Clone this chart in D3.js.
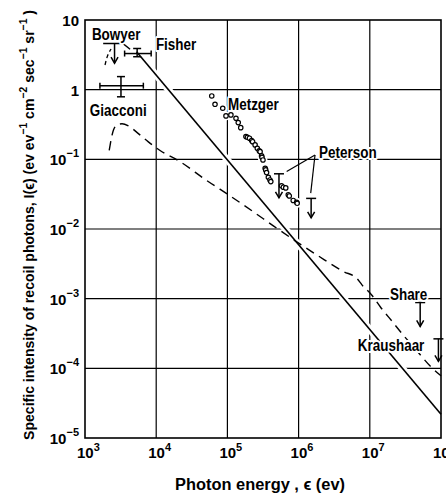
<!DOCTYPE html>
<html><head><meta charset="utf-8">
<script src="https://cdn.jsdelivr.net/npm/d3@7"></script>
<style>
html,body{margin:0;padding:0;background:#fff;}
svg{display:block;}
text{font-family:"Liberation Sans",Arial,sans-serif;font-weight:bold;fill:#000;}
</style></head><body>
<script>
// ---------- data ----------
const xTicks = [1e3, 1e4, 1e5, 1e6, 1e7, 1e8];
const xTickExp = ["3", "4", "5", "6", "7", "8"];
const yTicks = [1e1, 1e0, 1e-1, 1e-2, 1e-3, 1e-4, 1e-5];
const yTickBase = ["10", "1", "10", "10", "10", "10", "10"];
const yTickExp = ["", "", "-1", "-2", "-3", "-4", "-5"];

// power-law (solid) line
const solidLine = [[5.3e3, 3.5], [1e8, 2.2e-5]];

// dashed curve
const dashedCurve = [
  [2188, 0.135], [2512, 0.263], [2884, 0.316], [3311, 0.324], [4074, 0.302],
  [5623, 0.234], [7762, 0.178], [1.12e4, 0.135], [2.14e4, 0.0933], [4.9e4, 0.0513],
  [1.15e5, 0.0288], [2.29e5, 0.0178], [4.47e5, 0.011], [9.3e5, 0.0066], [1.9e6, 0.0041],
  [4.27e6, 0.00245], [6.6e6, 0.00195], [7.76e6, 0.00158], [1.07e7, 0.00112], [1.41e7, 7.6e-4],
  [2.14e7, 4.5e-4], [2.95e7, 3.0e-4], [4.27e7, 1.95e-4], [7.1e7, 1.07e-4], [1e8, 7.8e-5]
];

// Metzger points
const metzger = [
  [6.03e4, 0.813], [6.7e4, 0.617], [8.6e4, 0.541], [9.55e4, 0.42], [1.12e5, 0.434],
  [1.32e5, 0.389], [1.42e5, 0.337], [1.54e5, 0.285], [1.82e5, 0.212], [1.91e5, 0.207],
  [2.04e5, 0.201], [2.19e5, 0.186], [2.26e5, 0.179], [2.45e5, 0.161], [2.63e5, 0.144],
  [2.8e5, 0.133], [2.88e5, 0.129], [3.02e5, 0.112], [3.06e5, 0.107], [3.16e5, 0.098],
  [3.39e5, 0.0745], [3.45e5, 0.0705], [3.55e5, 0.0646], [3.76e5, 0.0553], [3.96e5, 0.0506],
  [4.07e5, 0.0479], [5.75e5, 0.0417], [6.1e5, 0.0398], [6.6e5, 0.0389], [7.16e5, 0.0309],
  [7.4e5, 0.0298], [8.4e5, 0.0257], [9.4e5, 0.0242], [9.55e5, 0.0234]
];

// upper limits: [energy, bar value, arrow tip value]
const upperLimits = [
  [2.6e3, 4.6, 2.4],      // Bowyer
  [5.3e5, 0.062, 0.028],  // Peterson 1
  [1.5e6, 0.0275, 0.0145],// Peterson 2
  [5.1e7, 8.8e-4, 4.0e-4],// Share
  [9.2e7, 2.65e-4, 1.26e-4] // Kraushaar
];
const bowyerBar = [[1.8e3, 4.6], [3.4e3, 4.6], [4.3e3, 3.8]];
const bowyerArc = [[1.91e3, 2.26], [2.07e3, 3.04], [2.32e3, 3.84]];

// error bars: [x, y, xLow, xHigh, yLow, yHigh]
const errorBars = [
  [5.4e3, 3.3, 3.6e3, 8.5e3, 2.97, 3.9],   // Fisher
  [3.2e3, 1.14, 1.62e3, 6.6e3, 0.79, 1.54] // Giacconi
];

// annotation labels anchored in data space
const labelText = ["Bowyer", "Fisher", "Giacconi", "Metzger", "Peterson", "Share", "Kraushaar"];
const labelAt = [[1.25e3, 5.16], [9.9e3, 3.72], [1.17e3, 0.42], [1.02e5, 0.51], [1.94e6, 0.105], [1.92e7, 9.6e-4], [6.8e6, 1.78e-4]];
const petersonLeaders = [[[1.7e6, 0.1156], [6.8e5, 0.0667]], [[1.7e6, 0.1156], [1.48e6, 0.0327]]];

// ---------- layout ----------
const W = 446, H = 498;
const M = {left: 85, right: 5, top: 20, bottom: 60};
const NARROW = 0.84;

const svg = d3.select("body").append("svg").attr("width", W).attr("height", H);
const x = d3.scaleLog().domain([1e3, 1e8]).range([M.left, W - M.right]);
const y = d3.scaleLog().domain([1e-5, 1e1]).range([H - M.bottom, M.top]);

function condense(sel, target) {
  sel.each(function() {
    const L = this.getComputedTextLength();
    this.setAttribute("textLength", target || L * NARROW);
    this.setAttribute("lengthAdjust", "spacingAndGlyphs");
  });
}

// grid
const grid = svg.append("g").attr("stroke", "#000").attr("stroke-width", 1.2);
grid.selectAll("line.v").data(xTicks.slice(1, -1)).join("line")
  .attr("x1", d => x(d)).attr("x2", d => x(d)).attr("y1", y(1e1)).attr("y2", y(1e-5));
grid.selectAll("line.h").data(yTicks.slice(1, -1)).join("line")
  .attr("y1", d => y(d)).attr("y2", d => y(d)).attr("x1", x(1e3)).attr("x2", x(1e8));

// halos to break gridlines where curves pass
const line = d3.line().x(d => x(d[0])).y(d => y(d[1]));
svg.append("path").attr("d", line(solidLine)).attr("fill", "none").attr("stroke", "#fff").attr("stroke-width", 7);
svg.append("g").selectAll("circle").data(metzger).join("circle")
  .attr("cx", d => x(d[0])).attr("cy", d => y(d[1])).attr("r", 4.5).attr("fill", "#fff");

// frame
svg.append("rect").attr("x", x(1e3)).attr("y", y(1e1))
  .attr("width", x(1e8) - x(1e3)).attr("height", y(1e-5) - y(1e1))
  .attr("fill", "none").attr("stroke", "#000").attr("stroke-width", 1.6);

// solid line
svg.append("path").attr("d", line(solidLine)).attr("fill", "none").attr("stroke", "#000").attr("stroke-width", 1.6);

// dashed curve
const curve = d3.line().x(d => x(d[0])).y(d => y(d[1])).curve(d3.curveMonotoneX);
svg.append("path").attr("d", curve(dashedCurve)).attr("fill", "none")
  .attr("stroke", "#000").attr("stroke-width", 1.4).attr("stroke-dasharray", "9,6");

// Metzger points
svg.append("g").selectAll("circle").data(metzger).join("circle")
  .attr("cx", d => x(d[0])).attr("cy", d => y(d[1])).attr("r", 2.2)
  .attr("fill", "#fff").attr("stroke", "#000").attr("stroke-width", 1.2);

// upper limits
const ul = svg.append("g").attr("stroke", "#000").attr("stroke-width", 1.5).attr("fill", "none");
upperLimits.forEach((d, i) => {
  const cx = x(d[0]), y0 = y(d[1]), y1 = y(d[2]);
  if (i > 0) ul.append("line").attr("x1", cx - 5).attr("x2", cx + 5).attr("y1", y0).attr("y2", y0);
  ul.append("line").attr("x1", cx).attr("x2", cx).attr("y1", y0).attr("y2", y1);
  ul.append("path").attr("d", `M${cx - 3.5},${y1 - 6}L${cx},${y1}L${cx + 3.5},${y1 - 6}`);
});
ul.append("path").attr("d", line(bowyerBar));
ul.append("path").attr("d", d3.line().x(d => x(d[0])).y(d => y(d[1])).curve(d3.curveNatural)(bowyerArc))
  .attr("stroke-dasharray", "4,3").attr("stroke-width", 1.3);

// error bars
const eb = svg.append("g").attr("stroke", "#000").attr("stroke-width", 1.5);
errorBars.forEach(d => {
  const cx = x(d[0]), cy = y(d[1]);
  const xl = x(d[2]), xh = x(d[3]), yl = y(d[4]), yh = y(d[5]);
  eb.append("line").attr("x1", xl).attr("x2", xh).attr("y1", cy).attr("y2", cy);
  eb.append("line").attr("x1", xl).attr("x2", xl).attr("y1", cy - 3).attr("y2", cy + 3);
  eb.append("line").attr("x1", xh).attr("x2", xh).attr("y1", cy - 3).attr("y2", cy + 3);
  eb.append("line").attr("x1", cx).attr("x2", cx).attr("y1", yl).attr("y2", yh);
  eb.append("line").attr("x1", cx - 4).attr("x2", cx + 4).attr("y1", yl).attr("y2", yl);
  eb.append("line").attr("x1", cx - 4).attr("x2", cx + 4).attr("y1", yh).attr("y2", yh);
});

// Peterson leaders
svg.append("g").attr("stroke", "#000").attr("stroke-width", 1.2)
  .selectAll("line").data(petersonLeaders).join("line")
  .attr("x1", d => x(d[0][0])).attr("y1", d => y(d[0][1]))
  .attr("x2", d => x(d[1][0])).attr("y2", d => y(d[1][1]));

// labels
const labels = svg.append("g").selectAll("text").data(labelText).join("text")
  .attr("x", (d, i) => x(labelAt[i][0])).attr("y", (d, i) => y(labelAt[i][1]))
  .attr("font-size", 16).attr("stroke", "#fff").attr("stroke-width", 4)
  .attr("paint-order", "stroke").attr("stroke-linejoin", "round")
  .text(d => d);
condense(labels);

// x tick labels
const xt = svg.append("g").selectAll("text").data(xTicks).join("text")
  .attr("x", d => x(d) - 8).attr("y", y(1e-5) + 20).attr("font-size", 15);
xt.append("tspan").text("10");
xt.append("tspan").attr("dy", -7).attr("font-size", 11).text((d, i) => xTickExp[i]);

// y tick labels
const yt = svg.append("g").selectAll("text").data(yTicks).join("text")
  .attr("x", M.left - 6).attr("y", d => y(d) + 6).attr("font-size", 15).attr("text-anchor", "end");
yt.append("tspan").text((d, i) => yTickBase[i]);
yt.append("tspan").attr("dy", -8).attr("font-size", 11).text((d, i) => yTickExp[i] ? "\u2212" + yTickExp[i].slice(1) : "");

// axis titles
const xTitle = svg.append("text").attr("x", 260).attr("y", 490).attr("text-anchor", "middle").attr("font-size", 16)
  .text("Photon energy ,  \u03F5 (ev)");
condense(xTitle, 170);
const yTitle = svg.append("text").attr("transform", "translate(34,225) rotate(-90)")
  .attr("text-anchor", "middle").attr("font-size", 15);
const parts = [["Specific intensity of recoil photons, I(\u03F5) (ev ev", ""], ["", "\u22121"], [" cm", ""], ["", "\u22122"], [" sec", ""], ["", "\u22121"], [" sr", ""], ["", "\u22121"], [" )", ""]];
parts.forEach(p => {
  if (p[0]) yTitle.append("tspan").attr("dy", p === parts[0] ? 0 : 7).text(p[0]);
  else yTitle.append("tspan").attr("dy", -7).attr("font-size", 11).text(p[1]);
});
condense(yTitle, 430);
</script>
</body></html>
